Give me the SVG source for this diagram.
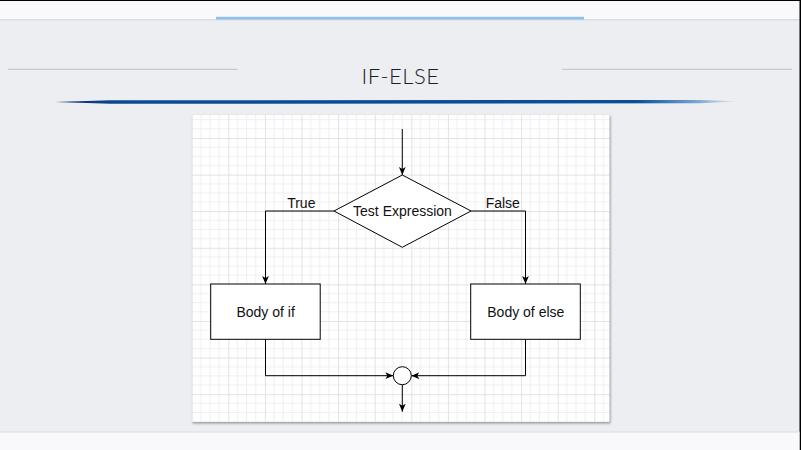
<svg xmlns="http://www.w3.org/2000/svg" width="801" height="450" viewBox="0 0 801 450">
  <style>
    .shape { fill: #ffffff; stroke: #000000; stroke-width: 1; }
    .wire { fill: none; stroke: #000000; stroke-width: 1; }
    .label { font-family: "Liberation Sans", Arial, sans-serif; font-size: 14px; fill: #111111; text-anchor: middle; }
    .title { font-family: "Lato", "Open Sans", sans-serif; font-weight: 300; font-size: 22px; fill: #1e1e1e; text-anchor: middle; letter-spacing: 0.5px; }
    .rule { stroke: #c9c9cd; stroke-width: 1.2; }
  </style>
  <defs>
    <marker id="arrow" viewBox="0 0 10 10" refX="10" refY="5" markerWidth="8" markerHeight="8" markerUnits="userSpaceOnUse" orient="auto">
      <path d="M0,0.8 L10,5 L0,9.2 L2.6,5 Z" fill="#000000"/>
    </marker>
    <pattern id="grid" patternUnits="userSpaceOnUse" x="228.3" y="138" width="36.6" height="36.6">
      <rect width="36.6" height="36.6" fill="#ffffff"/>
      <path d="M9.15,0 V36.6 M18.3,0 V36.6 M27.45,0 V36.6 M0,9.15 H36.6 M0,18.3 H36.6 M0,27.45 H36.6" stroke="#f0f0f2" stroke-width="1" fill="none"/>
      <path d="M0.5,0 V36.6 M0,0.5 H36.6" stroke="#e2e2e5" stroke-width="1" fill="none"/>
    </pattern>
    <linearGradient id="swoosh" x1="55" y1="0" x2="740" y2="0" gradientUnits="userSpaceOnUse">
      <stop offset="0" stop-color="#0a2c72"/>
      <stop offset="0.1" stop-color="#0a4a92"/>
      <stop offset="0.85" stop-color="#0b4f98"/>
      <stop offset="0.93" stop-color="#6f9fcc"/>
      <stop offset="1" stop-color="#eceef2"/>
    </linearGradient>
    <filter id="shadow" x="-5%" y="-5%" width="110%" height="110%">
      <feGaussianBlur stdDeviation="0.8"/>
    </filter>
  </defs>

  <!-- page background -->
  <rect x="0" y="0" width="801" height="450" fill="#eceef2"/>

  <!-- top bar -->
  <rect x="0" y="0" width="801" height="19" fill="#f9f9fb"/>
  <rect x="0" y="19" width="801" height="1.5" fill="#dcdcde"/>
  <rect x="216" y="16.8" width="368" height="2.7" fill="#8ec1f2"/>
  <rect x="0" y="0" width="801" height="1" fill="#000000"/>
  <rect x="799.5" y="0" width="1.5" height="450" fill="#000000"/>

  <!-- bottom bar -->
  <rect x="0" y="432" width="799.5" height="18" fill="#f9f9fb"/>
  <rect x="0" y="431.5" width="799.5" height="1" fill="#dddde0"/>

  <!-- heading -->
  <line class="rule" x1="8" y1="69.3" x2="237.5" y2="69.3"/>
  <line class="rule" x1="562" y1="69.3" x2="792" y2="69.3"/>
  <text class="title" x="400.5" y="84.3">IF-ELSE</text>
  <path d="M55,102 L110,100.3 L700,100 L740,101.3 L700,103.2 L110,103.8 Z" fill="url(#swoosh)"/>

  <!-- drawing canvas -->
  <rect x="192.5" y="116" width="418" height="307.5" fill="#9a9a9e" filter="url(#shadow)"/>
  <rect x="191.5" y="115" width="418" height="307" fill="url(#grid)"/>

  <!-- connectors -->
  <g id="connectors">
    <path class="wire" d="M402.3,129 V175" marker-end="url(#arrow)"/>
    <path class="wire" d="M334,211 H265.5 V284" marker-end="url(#arrow)"/>
    <path class="wire" d="M471,211 H525.5 V284" marker-end="url(#arrow)"/>
    <path class="wire" d="M265.5,339.3 V375.7 H393.3" marker-end="url(#arrow)"/>
    <path class="wire" d="M525.5,339.3 V375.7 H411.3" marker-end="url(#arrow)"/>
    <path class="wire" d="M402.3,384.7 V411.7" marker-end="url(#arrow)"/>
    <text class="label" x="301.3" y="207.7">True</text>
    <text class="label" x="502.8" y="207.7">False</text>
  </g>

  <!-- nodes -->
  <g id="test-expression">
    <polygon class="shape" points="402.3,175 471,211 402.3,247.3 334,211"/>
    <text class="label" x="402.5" y="216">Test Expression</text>
  </g>
  <g id="body-if">
    <rect class="shape" x="210.7" y="284" width="109.5" height="55.3"/>
    <text class="label" x="265.6" y="316.7">Body of if</text>
  </g>
  <g id="body-else">
    <rect class="shape" x="470.7" y="284" width="109.6" height="55.3"/>
    <text class="label" x="525.8" y="316.7">Body of else</text>
  </g>
  <g id="merge">
    <circle class="shape" cx="402.3" cy="375.7" r="9"/>
  </g>
</svg>
